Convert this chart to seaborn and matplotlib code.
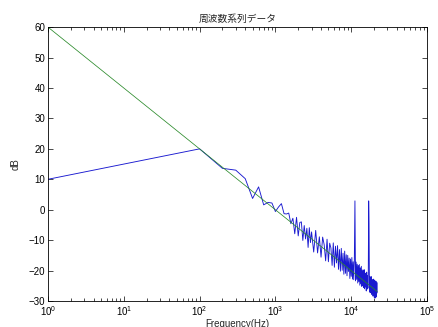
import matplotlib
matplotlib.use("Agg")
import matplotlib.pyplot as plt
import seaborn as sns
from matplotlib.ticker import LogLocator, NullFormatter

# green reference line (ideal -20 dB/decade)
green_freq = [1, 22050]
green_db = [60.0, -26.9]

# measured spectrum (blue)
blue_freq = [
    1,
    100, 200, 300, 400, 500, 600, 700, 800, 900, 1000,
    1100, 1200, 1300, 1400, 1500, 1600, 1700, 1800, 1900, 2000,
    2100, 2200, 2300, 2400, 2500, 2600, 2700, 2800, 2900, 3000,
    3200, 3400, 3600, 3800, 4000, 4200, 4400, 4600, 4800, 5000,
    5200, 5400, 5600, 5800, 6000, 6200, 6400, 6600, 6800, 7000,
    7200, 7400, 7600, 7800, 8000, 8200, 8400, 8600, 8800, 9000,
    9200, 9400, 9600, 9800, 10000, 10200, 10400, 10600, 10800, 11000,
    11200, 11400, 11600, 11800, 12000, 12200, 12400, 12600, 12800, 13000,
    13200, 13400, 13600, 13800, 14000, 14200, 14400, 14600, 14800, 15000,
    15200, 15400, 15600, 15800, 16000, 16200, 16400, 16600, 16800, 17000,
    17200, 17400, 17600, 17800, 18000, 18200, 18400, 18600, 18800, 19000,
    19200, 19400, 19600, 19800, 20000, 20200, 20400, 20600, 20800, 21000,
    21200, 21400, 21600, 21800, 22000,
]
blue_db = [
    10.0,
    20.0, 13.6, 13.0, 10.2, 3.7, 7.5, 1.6, 2.4, 2.2, -0.6,
    0.9, 2.0, -1.3, -1.4, -1.1, -4.6, -2.8, -7.9, -2.5, -8.6,
    -4.2, -4.0, -10.1, -5.2, -9.6, -6.1, -12.4, -5.9, -10.8, -7.3,
    -13.9, -6.8, -14.2, -8.9, -15.6, -9.0, -11.5, -16.8, -9.7, -17.1,
    -11.0, -12.6, -18.3, -10.9, -18.9, -12.0, -17.5, -11.8, -19.6, -13.1,
    -20.2, -12.7, -19.9, -14.3, -21.2, -13.6, -20.9, -14.8, -21.7, -15.0,
    -20.3, -15.9, -22.6, -16.2, -21.9, -15.7, -22.8, -17.1, -23.0, -16.4,
    2.9, -23.4, -17.2, -22.9, -17.9, -24.1, -18.3, -23.6, -18.0, -24.8,
    -19.1, -24.3, -18.6, -25.2, -19.8, -24.9, -20.1, -25.6, -19.7, -26.0,
    -20.8, -25.4, -21.0, -26.7, -20.5, -26.1, -21.6, -25.8, -21.2, 2.9,
    -4.6, -26.9, -21.9, -27.3, -22.4, -26.6, -22.0, -27.8, -22.9, -27.2,
    -23.3, -28.4, -22.8, -27.9, -23.6, -28.9, -23.1, -28.2, -23.9, -29.0,
    -23.5, -28.6, -24.2, -27.4, -24.0,
]

sns.set_style("ticks")
plt.rcParams["font.family"] = ["Liberation Sans", "DejaVu Sans"]
plt.rcParams["xtick.direction"] = "in"
plt.rcParams["ytick.direction"] = "in"

fig = plt.figure(figsize=(4.38, 3.27), dpi=100)
ax = fig.add_axes([0.1096, 0.0795, 0.8653, 0.8375])

sns.lineplot(x=blue_freq, y=blue_db, ax=ax, color="#1a1ad0", linewidth=0.65,
             estimator=None, sort=False)
sns.lineplot(x=green_freq, y=green_db, ax=ax, color="#2a8a2a", linewidth=0.55,
             estimator=None, sort=False)

ax.set_xscale("log")
ax.set_xlim(1, 1e5)
ax.set_ylim(-30, 60)
ax.set_yticks(range(-30, 61, 10))
ax.xaxis.set_major_locator(LogLocator(base=10, numticks=10))
ax.xaxis.set_minor_locator(LogLocator(base=10, subs=range(2, 10), numticks=100))
ax.xaxis.set_minor_formatter(NullFormatter())

ax.tick_params(which="both", top=True, right=True, labelsize=7, width=0.5,
               colors="black", pad=2)
ax.tick_params(which="major", length=3.5)
ax.tick_params(which="minor", length=2)
for s in ax.spines.values():
    s.set_visible(True)
    s.set_linewidth(0.6)
    s.set_color("black")

ax.set_title("周波数系列データ", fontsize=7,
             family=["Noto Sans CJK JP", "DejaVu Sans"], pad=4)
ax.set_xlabel("Frequency(Hz)", fontsize=7, labelpad=1)
ax.set_ylabel("dB", fontsize=7, labelpad=6)

fig.savefig("out.png", dpi=100)
